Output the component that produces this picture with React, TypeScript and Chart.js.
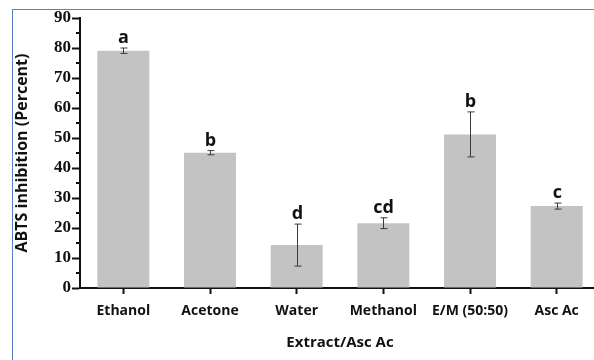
import React, { useEffect, useRef } from "react";
import { Chart, registerables } from "chart.js";

Chart.register(...registerables);

const categories = ["Ethanol", "Acetone", "Water", "Methanol", "E/M (50:50)", "Asc Ac"];
const values = [79.1, 45.1, 14.3, 21.6, 51.2, 27.3];
const errors = [0.9, 0.7, 7.0, 1.8, 7.5, 1.0];
const letters = ["a", "b", "d", "cd", "b", "c"];
const yTicks = [0, 10, 20, 30, 40, 50, 60, 70, 80, 90];

const extrasPlugin = {
  id: "extras",
  afterDatasetsDraw(chart: any) {
    const ctx = chart.ctx;
    const x = chart.scales.x;
    const y = chart.scales.y;
    ctx.save();
    ctx.strokeStyle = "#3a3a3a";
    ctx.lineWidth = 1;
    values.forEach((v, i) => {
      const cx = Math.round(x.getPixelForValue(i)) + 0.5;
      const top = y.getPixelForValue(v + errors[i]);
      const bot = y.getPixelForValue(v - errors[i]);
      ctx.beginPath();
      ctx.moveTo(cx, top);
      ctx.lineTo(cx, bot);
      ctx.moveTo(cx - 3, top);
      ctx.lineTo(cx + 4, top);
      ctx.moveTo(cx - 3, bot);
      ctx.lineTo(cx + 4, bot);
      ctx.stroke();
      ctx.fillStyle = "#111";
      ctx.font = "bold 18px 'Open Sans'";
      ctx.textAlign = "center";
      ctx.textBaseline = "alphabetic";
      ctx.fillText(letters[i], cx, top - 5);
    });
    ctx.strokeStyle = "#111";
    ctx.lineWidth = 2;
    const ax = y.right;
    for (let t = 5; t < 90; t += 10) {
      const py = y.getPixelForValue(t);
      ctx.beginPath();
      ctx.moveTo(ax - 4, py);
      ctx.lineTo(ax, py);
      ctx.stroke();
    }
    ctx.restore();
  },
};

export default function App() {
  const ref = useRef<HTMLCanvasElement>(null);
  useEffect(() => {
    const chart = new Chart(ref.current!, {
      type: "bar",
      data: {
        labels: categories,
        datasets: [
          {
            data: values,
            backgroundColor: "#c3c3c3",
            borderWidth: 0,
            categoryPercentage: 0.6,
            barPercentage: 1,
          },
        ],
      },
      options: {
        responsive: false,
        animation: false,
        layout: { padding: { left: 8, top: 18, right: 10, bottom: 0 } },
        plugins: { legend: { display: false }, tooltip: { enabled: false } },
        scales: {
          x: {
            offset: true,
            grid: {
              offset: false,
              drawOnChartArea: false,
              drawTicks: true,
              tickLength: 6,
              tickColor: "#111",
              tickWidth: 2,
            },
            border: { display: true, color: "#111", width: 2 },
            ticks: {
              color: "#111",
              font: { family: "'Open Sans'", size: 14, weight: "bold" },
              padding: 9,
              maxRotation: 0,
              autoSkip: false,
            },
            title: {
              display: true,
              text: "Extract/Asc Ac",
              color: "#111",
              font: { family: "'Open Sans'", size: 15, weight: "bold" },
              padding: { top: 0, bottom: 8 },
            },
            afterFit(scale: any) {
              scale.height = 72;
            },
          },
          y: {
            min: 0,
            max: 90,
            afterBuildTicks(scale: any) {
              scale.ticks = yTicks.map((v) => ({ value: v }));
            },
            grid: {
              drawOnChartArea: false,
              drawTicks: true,
              tickLength: 8,
              tickColor: "#111",
              tickWidth: 2,
            },
            border: { display: true, color: "#111", width: 2 },
            ticks: {
              color: "#111",
              font: { family: "'Liberation Serif'", size: 17, weight: "bold" },
              padding: 1,
            },
            title: {
              display: true,
              text: "ABTS inhibition (Percent)",
              color: "#111",
              font: { family: "'Open Sans'", size: 16, weight: "bold" },
              padding: { top: 5, bottom: 0 },
            },
            afterFit(scale: any) {
              scale.width = 72;
            },
          },
        },
      },
      plugins: [extrasPlugin],
    });
    return () => chart.destroy();
  }, []);
  return (
    <div
      style={{
        position: "fixed",
        left: 0,
        top: 0,
        width: 594,
        height: 360,
        overflow: "hidden",
        background: "#fff",
      }}
    >
      <div
        style={{
          position: "absolute",
          left: 12,
          top: 9,
          width: 600,
          height: 400,
          borderTop: "1px solid #5a7fc8",
          borderLeft: "1px solid #5a7fc8",
        }}
      />
      <canvas ref={ref} width={610} height={360} style={{ position: "absolute", left: 0, top: 0 }} />
    </div>
  );
}
